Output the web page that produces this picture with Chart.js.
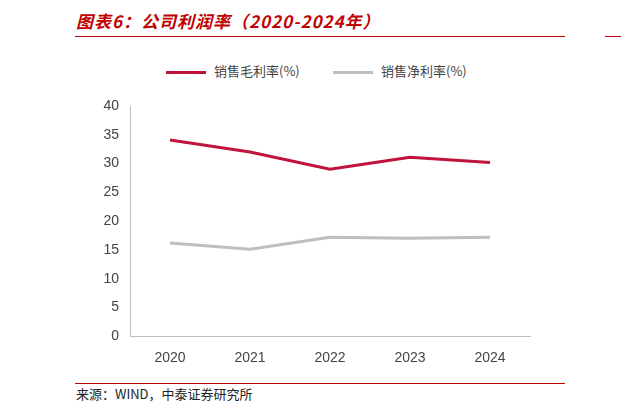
<!DOCTYPE html>
<html><head><meta charset="utf-8">
<script src="https://cdn.jsdelivr.net/npm/chart.js@4"></script>
<style>
body{margin:0;width:621px;height:415px;background:#fff;position:relative;overflow:hidden;font-family:"Noto Sans CJK SC",sans-serif}
#title{position:absolute;left:76px;top:8px;font-size:17px;font-weight:bold;font-style:italic;color:#C00000;letter-spacing:1px}
#tl{position:absolute;left:75px;top:36px;width:490px;border-top:1px solid #C00000}
#tl2{position:absolute;left:605px;top:36px;width:20px;border-top:1px solid #C00000}
#src{position:absolute;left:76px;top:384px;font-size:13px;color:#222}
#sl{position:absolute;left:75px;top:383px;width:490px;border-top:1px solid #C00000}
.lg{position:absolute;top:61px;font-size:13px;color:#444}
.sw{display:inline-block;width:40px;height:3px;vertical-align:middle;margin-right:8px}
canvas{position:absolute;left:0;top:0}
</style></head><body>
<div id="title">图表6：公司利润率（2020-2024年）</div>
<div id="tl"></div><div id="tl2"></div>
<div class="lg" style="left:166px"><span class="sw" style="background:#C0143C"></span>销售毛利率(%)</div>
<div class="lg" style="left:333px"><span class="sw" style="background:#BFBFBF"></span>销售净利率(%)</div>
<div id="sl"></div>
<div id="src">来源：WIND，中泰证券研究所</div>
<div style="width:621px;height:415px"><canvas id="c"></canvas></div>
<script>
const years = ['2020', '2021', '2022', '2023', '2024'];
const grossMargin = [34.1, 32.0, 29.0, 31.1, 30.2];
const netMargin = [16.2, 15.1, 17.2, 17.0, 17.2];

new Chart(document.getElementById('c'), {
    type: 'line',
    data: {
        labels: years,
        datasets: [{
            label: '销售毛利率(%)',
            data: grossMargin,
            borderColor: '#C0143C',
            borderWidth: 3,
            pointRadius: 0,
            tension: 0
        }, {
            label: '销售净利率(%)',
            data: netMargin,
            borderColor: '#BFBFBF',
            borderWidth: 3,
            pointRadius: 0,
            tension: 0
        }]
    },
    options: {
        responsive: true,
        maintainAspectRatio: false,
        animation: false,
        layout: { padding: { left: 95, right: 91, top: 106, bottom: 42 } },
        plugins: { legend: { display: false }, tooltip: { enabled: false } },
        scales: {
            x: {
                offset: true,
                grid: { display: false, drawTicks: true },
                border: { color: '#BFBFBF' },
                ticks: { color: '#444', font: { size: 14, family: 'Arial, Liberation Sans' }, padding: 6 }
            },
            y: {
                min: 0, max: 40,
                afterFit: s => { s.width = 35; },
                grid: { display: false },
                border: { color: '#BFBFBF' },
                ticks: { stepSize: 5, color: '#444', font: { size: 14, family: 'Arial, Liberation Sans' } }
            }
        }
    }
});
</script>
</body></html>
